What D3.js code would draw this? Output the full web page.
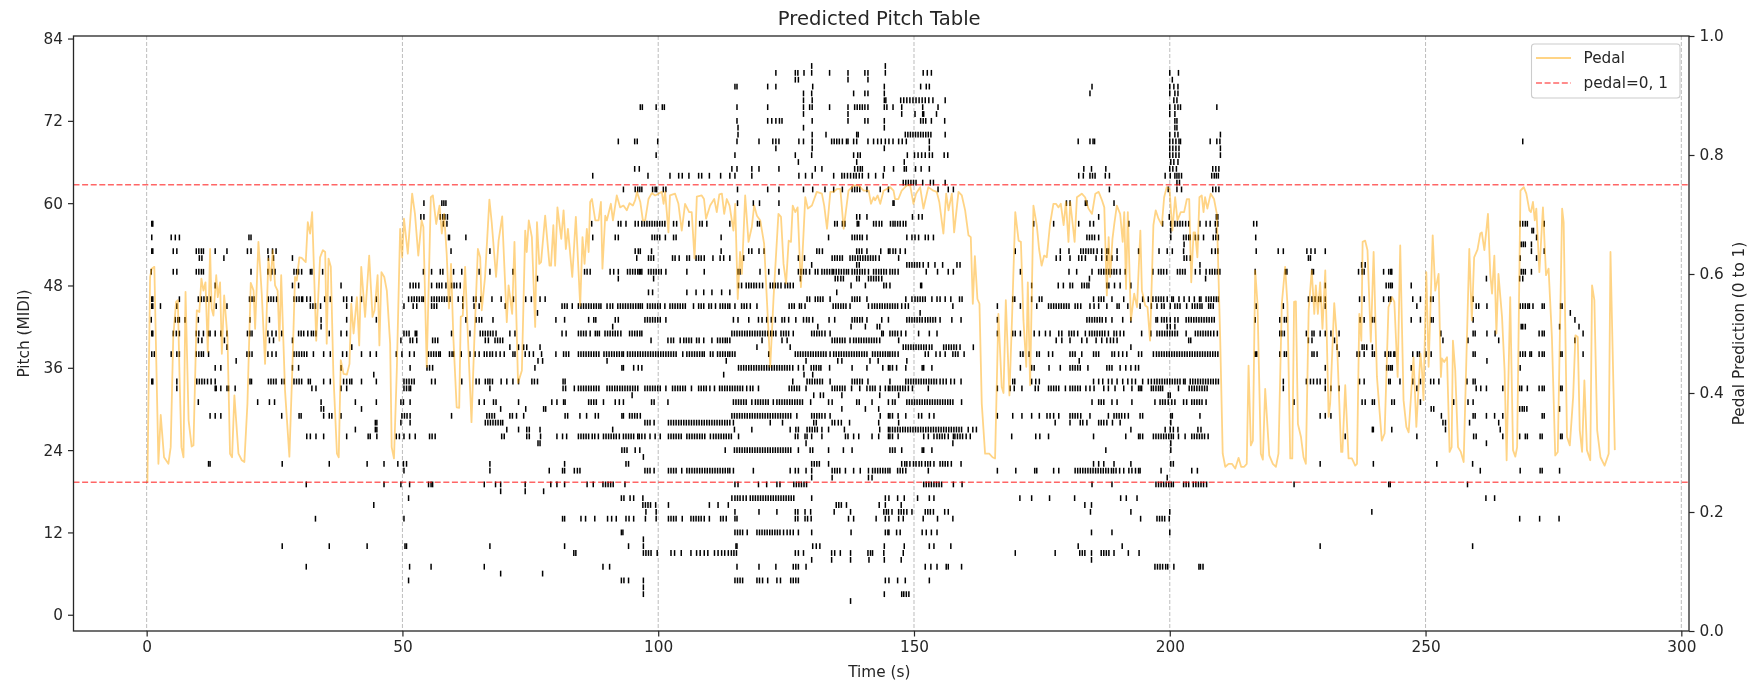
<!DOCTYPE html>
<html><head><meta charset="utf-8">
<script src="https://cdn.jsdelivr.net/npm/d3@7"></script>
<style>html,body{margin:0;padding:0;background:#fff}svg{display:block;filter:blur(0.4px)}text{font-family:"DejaVu Sans",sans-serif;fill:#262626}</style>
</head><body><div id="chart"></div>
<script>
const xTicks=[0,50,100,150,200,250,300];
const pitchTicks=[0,12,24,36,48,60,72,84];
const pedalTicks=[0,0.2,0.4,0.6,0.8,1];
const pedalThresholds=[0.25,0.75];
const pedalSeries=[[0.15,.25],[0.67,.595],[1,.609],[1.5,.612],[2.3,.281],[2.75,.363],[3.4,.292],[4.25,.281],[4.7,.309],[5.2,.494],[5.75,.553],[6.1,.556],[6.4,.438],[6.8,.309],[7.2,.292],[7.6,.57],[8.2,.354],[8.8,.31],[9.15,.312],[9.8,.539],[10.3,.536],[10.7,.592],[11.1,.572],[11.5,.586],[11.95,.469],[12.4,.642],[12.7,.542],[13.05,.53],[13.6,.598],[13.9,.561],[14.35,.586],[14.7,.466],[15.15,.564],[15.8,.494],[16.3,.298],[16.7,.292],[17.15,.396],[17.95,.298],[18.6,.287],[19.1,.284],[19.7,.382],[20.35,.585],[20.9,.572],[21.2,.508],[21.85,.654],[22.5,.567],[23.15,.449],[23.8,.626],[24.25,.589],[24.65,.64],[25.1,.581],[25.6,.572],[25.95,.488],[26.3,.598],[27.05,.404],[27.9,.293],[28.55,.46],[29,.595],[29.35,.589],[29.85,.628],[30.3,.627],[31.1,.62],[31.5,.687],[31.95,.668],[32.35,.704],[33.15,.488],[33.9,.628],[34.45,.64],[34.9,.637],[35.2,.483],[35.55,.626],[36,.612],[36.5,.432],[37.2,.298],[37.55,.292],[37.95,.455],[38.5,.432],[39.15,.431],[39.65,.449],[40,.55],[40.45,.5],[41.1,.561],[41.55,.48],[41.95,.612],[42.7,.528],[43.5,.631],[44.15,.528],[44.55,.539],[45.15,.598],[45.5,.48],[45.9,.603],[46.45,.595],[46.95,.572],[47.6,.483],
[47.9,.309],[48.35,.29],[48.9,.438],[49.55,.676],[49.95,.628],[50.3,.693],[51.05,.634],[51.9,.735],[52.45,.701],[53.1,.631],[53.75,.69],[54.1,.679],[54.75,.444],[55.55,.729],[55.95,.732],[56.6,.684],[57.25,.715],[57.7,.668],[58.15,.701],[58.65,.634],[59.1,.542],[59.5,.617],[59.95,.494],[60.6,.376],[61.1,.375],[61.4,.528],[61.8,.53],[62.25,.612],[62.8,.494],[63.5,.351],[64.05,.488],[64.75,.642],[65.2,.628],[65.5,.539],[66.15,.595],[67,.725],[67.45,.687],[68.3,.595],[68.8,.656],[69.5,.697],[70.4,.519],[70.75,.581],[71.45,.533],[71.9,.654],[72.6,.417],[73.35,.438],[74,.673],[74.3,.637],[74.7,.69],[75.3,.662],[75.95,.511],[76.3,.687],[76.75,.617],[77.1,.62],[77.9,.698],[78.75,.614],[79.05,.614],[79.5,.682],[79.85,.614],[80.3,.712],[81.05,.659],[81.5,.707],[81.95,.642],[82.35,.676],[83.2,.595],[83.9,.696],[84.75,.547],[85.2,.662],[85.6,.617],[86.05,.676],[86.4,.637],[86.7,.721],[87.05,.726],[87.7,.69],[88.35,.69],[88.8,.721],[89.1,.609],[89.65,.698],[89.95,.69],[90.75,.718],[91.15,.69],[91.9,.732],[92.55,.712],[93.2,.715],[93.85,.707],[94.4,.719],[95.05,.715],[95.5,.724],[95.85,.738],[96.5,.721],
[97,.69],[97.45,.69],[98.1,.726],[98.75,.736],[99.4,.732],[100.05,.735],[100.7,.738],[101.05,.718],[101.35,.738],[102,.67],[102.3,.732],[103.3,.735],[103.95,.718],[104.6,.673],[105.25,.718],[106.05,.704],[106.55,.704],[107.1,.626],[107.55,.73],[108.5,.732],[108.95,.726],[109.35,.693],[110.15,.715],[110.95,.726],[111.45,.704],[111.95,.734],[112.45,.735],[112.9,.701],[113.4,.726],[113.95,.715],[114.7,.673],[115.05,.718],[115.55,.558],[116,.637],[116.35,.6],[117,.732],[117.65,.654],[118.3,.679],[118.75,.715],[119.3,.698],[119.95,.69],[120.7,.651],[121.25,.556],[121.9,.444],[122.55,.561],[123.5,.701],[124,.696],[124.5,.617],[125,.584],[125.5,.656],[125.95,.654],[126.3,.715],[126.8,.704],[127.25,.712],[127.9,.578],[128.75,.729],[129.25,.71],[130.05,.715],[130.5,.726],[131,.738],[132,.735],[132.45,.715],[133,.676],[133.65,.738],[134.3,.738],[134.95,.743],[135.6,.743],[136.25,.676],[137.2,.74],[138.2,.749],[139.15,.749],[140.15,.74],[141.15,.74],[141.6,.718],[142.1,.729],[142.4,.724],[142.9,.732],[143.4,.718],[144.05,.74],[145.35,.746],
[146,.74],[146.3,.726],[146.95,.726],[147.6,.74],[148.6,.749],[149.25,.749],[149.9,.718],[150.4,.735],[151.2,.746],[151.85,.71],[152.8,.746],[153.8,.74],[154.45,.738],[154.95,.721],[155.75,.668],[156.3,.735],[156.75,.707],[157.4,.735],[157.85,.67],[158.7,.738],[159.35,.732],[160,.707],[160.65,.665],[161.1,.662],[161.5,.55],[161.9,.63],[162.4,.558],[162.8,.55],[163.25,.382],[163.9,.298],[164.7,.298],[165.35,.292],[165.85,.29],[166.5,.533],[167.15,.41],[167.5,.4],[167.95,.556],[168.65,.396],[169.15,.522],[169.8,.704],[170.45,.656],[170.9,.654],[171.4,.522],[171.95,.444],[172.25,.586],[172.7,.413],[173.35,.715],[174,.682],[174.45,.642],[174.95,.614],[175.45,.631],[175.95,.628],[176.6,.684],[177.25,.718],[177.75,.718],[178.25,.712],[178.7,.718],[179.25,.682],[179.7,.721],[180.2,.654],[180.55,.721],[181.4,.654],[181.85,.729],[182.8,.735],[183.45,.729],[184.1,.71],[184.8,.701],[185.45,.735],[186.1,.738],[186.75,.724],[187.2,.712],[187.7,.564],[188.05,.662],[188.35,.595],[188.8,.659],[189.15,.684],[189.65,.715],[190.3,.701],[190.8,.654],[191.1,.704],[191.45,.575],[191.8,.704],[192.4,.522],[193.05,.567],[193.6,.544],[194.25,.673],
[194.55,.572],[195.2,.547],[195.65,.544],[196.15,.488],[196.8,.682],[197.25,.707],[197.8,.693],[198.45,.682],[198.9,.729],[199.4,.746],[199.95,.743],[200.5,.673],[201.05,.729],[201.5,.69],[202.15,.704],[202.8,.704],[203.35,.726],[203.8,.726],[204.2,.586],[204.65,.67],[204.95,.67],[205.4,.628],[205.8,.729],[206.25,.732],[206.6,.704],[206.9,.729],[207.35,.71],[208,.735],[208.65,.726],[209.2,.701],[209.85,.494],[210.35,.298],[210.85,.276],[211.5,.281],[212.15,.281],[212.8,.273],[213.45,.291],[213.95,.276],[214.55,.276],[215.05,.281],[215.4,.446],[215.85,.312],[216.25,.32],[216.7,.606],[217.15,.55],[217.8,.298],[218.2,.288],[218.65,.407],[219.45,.295],[220.15,.281],[220.75,.276],[221.25,.298],[221.9,.55],[222.55,.612],[223,.55],[223.55,.29],[223.95,.29],[224.3,.553],[224.65,.554],[225.05,.348],[225.65,.326],[226.15,.292],[226.6,.281],[227.15,.539],[227.75,.606],[228.25,.533],[228.55,.581],[228.95,.533],[229.4,.586],[229.85,.508],[230.4,.606],[231.05,.36],[231.35,.382],[232.15,.551],[232.65,.494],[233.5,.301],[233.75,.301],[234.3,.413],[234.95,.29],[235.6,.29],[236.25,.278],[236.6,.281],[237.05,.533],[237.45,.488],[237.7,.654],[238.2,.656],[238.65,.64],[239.3,.486],[239.85,.637],[240.5,.427],[241.45,.32],[242,.332],[242.75,.544],
[243.45,.561],[243.9,.553],[244.55,.427],[245.05,.648],[245.7,.388],[246.25,.343],[246.7,.334],[247.65,.46],[248.2,.343],[249,.466],[249.3,.438],[249.6,.388],[250.15,.603],[250.6,.444],[251.4,.665],[251.9,.572],[252.55,.6],[253,.427],[253.2,.458],[253.65,.452],[254.2,.46],[254.7,.301],[255.1,.309],[255.35,.488],[255.8,.438],[256.35,.309],[256.9,.301],[257.45,.284],[258.55,.642],[259.05,.522],[259.5,.628],[260.15,.641],[260.7,.668],[261,.67],[261.5,.64],[262.2,.701],[262.65,.6],[263,.567],[263.45,.631],[263.85,.5],[264.25,.6],[264.95,.528],[265.45,.438],[265.85,.287],[266.55,.561],[267.1,.304],[267.55,.293],[267.9,.309],[268.55,.74],[269.2,.746],[269.7,.735],[270.3,.707],[270.6,.704],[271,.721],[271.35,.69],[271.65,.71],[272.25,.603],[272.95,.712],[273.55,.598],[274.05,.609],[274.7,.494],[275.35,.295],[275.85,.301],[276.7,.71],[277,.687],[277.65,.326],[278.2,.312],[278.85,.393],[279.3,.497],[279.75,.494],[280.15,.337],[280.6,.301],[281.05,.421],[281.55,.304],[282.2,.287],[282.55,.581],[283,.556],[283.55,.337],[284.2,.292],[285,.278],[285.8,.298],[286.15,.637],[287,.304]];

const p80=[130,144.4];
const p79=[123,126.8,127.3,128.5,130,133.5,137.1,140.4,141,144.4,151.8,152.6,153.4,200,201.7];
const p78=[126.8,127.4,137.1,141,200.5];
const p77=[115,115.4,121.4,123,130.2,144.2,151.3,152.4,153,184.8,200,200.8,201.6];
const p76=[128.4,130,138.2,140.4,141,144.2,184.4,200,201,201.6];
const p75=[128.4,130.1,144.2,144.5,147.4,148,148.6,149.2,149.8,150.4,151,151.6,152.2,152.9,153.7,156.1,200.8,201.4];
const p74=[96.5,96.9,99.6,100.8,101.2,115.4,121.4,128.4,129.6,130.1,133.5,137.1,138.4,138.9,139.4,139.9,140.4,141,144.2,144.7,145.9,147.6,151.7,154.7,200,201,201.6,202.1,209.2];
const p73=[128.4,137.1,147.6,150.2,151.7,151.9,154.4,200,201];
const p72=[115.4,121.4,122.2,123,123.7,124.2,130.1,137.1,140.4,141,144.2,151.3,151.8,152.3,153.4,156,201,201.4];
const p71=[115.6,128.4,144.2,201,201.4];
const p70=[115.6,130.1,132.8,138.8,139.1,148.3,148.8,149.3,149.8,150.3,150.8,151.3,151.8,152.3,152.8,153.3,156.1,200,201,201.6,209.9];
const p69=[92.2,95.4,95.9,99.9,115.4,119.7,122.4,123,123.6,127.5,128.4,130.1,133.9,134.4,134.9,135.4,136,136.8,137.1,138.2,138.8,141,142.1,142.9,143.6,144.4,145.1,145.9,147,147.7,148.5,153,182.1,184.4,185,185.3,200,200.6,201.2,201.8,202.1,207.9,209.2,209.8,269];
const p68=[123,130.1,144.2,153,200,200.6,201.2,201.8,209.9];
const p67=[99.6,115,126.8,130,138.2,139,139.5,148.7,150.1,150.8,151.5,152.2,153,153.6,155.9,156.6,200,200.6,201.2,201.8,209.9];
const p66=[127.4,138.8,148.1,200.2,200.8,201.6];
const p65=[95.4,96.3,114.4,115.4,118.3,119.7,123.6,130.7,132,138.4,139,139.5,139.9,144.2,146,148.1,148.5,150.3,151.4,153,183.2,184.7,187.5,200,200.6,201.3,208.4,209,209.6];
const p64=[87.2,98,102.3,104,104.7,106,107.9,108.5,110,112.2,114,115,118.3,127.5,128.8,130.1,134.3,135.9,136.4,137,137.6,138.2,138.7,139.3,139.9,141.1,142.5,144,182.2,183.1,184.4,184.9,185.4,187.4,188.2,199.1,200.1,201,201.4,201.8,202.3,208.2,208.7,209.1,209.5];
const p63=[147.9,148.4,148.9,149.4,149.9,150.4,151.7,153.2,153.8,156.1,201.4,201.9];
const p62=[93.2,95.5,96,96.4,96.8,98.9,99.4,99.7,101,101.5,115.5,121.4,123.6,128.4,130.2,132.6,134.3,136,137.9,138.4,138.9,139.4,140.8,143.4,145,154.7,156.7,157.7,188.2,199.7,201.4,202.3,208.4,209,209.6];
const p60=[54.2,57.7,58.1,58.5,115.5,118.6,119.8,123.6,145.9,146.1,179.8,180.5,183.5,183.8,189.1];
const p58=[53.6,54.2,57.4,57.9,58.3,58.8,138.8,139.4,140.8,149.7,150.9,151.6,186.1,199.9,209.1,209.4];
const p57=[1,1.2,58,58.7,87,92.2,92.7,93.7,95.5,96.1,96.8,97.3,97.8,98.3,98.8,99.3,99.8,100.3,100.8,101.3,103,103.6,106,108.1,108.6,109.5,114,119.4,119.8,134.5,135,136,136.5,138.9,139.2,142.1,142.6,143.2,143.7,145.4,145.9,146.3,146.8,147.3,147.9,148.4,173.4,177.3,182.2,184.4,185.1,192,198.6,200.2,201,201.5,202,202.5,203.1,203.7,205.9,207.1,207.9,208.9,209.4,216.4,217,268.5,269,269.5,269.9,273.2];
const p56=[200.2,209.1,270.8,271.1];
const p55=[1,4.8,5.6,6.4,20,20.4,59,59.2,62.4,87.2,91.6,92.2,98.8,99.3,99.8,100.3,101.4,103,103.5,112.3,133.3,137.9,138.4,138.9,139.4,139.9,140.8,148.6,149.6,150.2,150.9,152.2,152.8,153.8,183.8,184.3,184.8,185.3,186.1,200.2,202.7,203.2,203.7,204,205,205.6,206.6,208.5,209,209.5,216.8,271.7];
const p54=[202.8,268.7,269.1,269.5,270.7];
const p53=[1,1.2,5.2,5.9,9.7,10.2,10.7,11.1,13.4,15.7,19.7,20.4,23.7,24.6,25.3,59.5,67.1,95.5,96.1,96.5,98.7,112.3,117.7,118.3,119.7,120.7,131,131.5,132.1,138.8,139.3,139.8,140.8,143.5,145,145.3,145.9,146.4,147.3,148.3,169.8,178.6,180.3,182.6,183.1,183.6,184.1,184.6,185.1,185.8,186.7,187.7,188,189.7,193.9,197.9,199.5,200.5,202.7,208.2,208.9,209.4,216.9,221.2,222.2,226.8,227.6,228.4,230.4,270.7,273.2];
const p52=[10.3,10.8,15.1,23.8,24.8,28.5,95.8,98.1,98.6,99.1,102.8,103.3,104.1,105.6,106.1,107.4,107.9,108.4,109,110.7,112.1,112.8,114,116.7,127.4,128.6,134,134.5,135,135.5,136,137.5,138,138.5,139,139.5,140,140.5,141,141.5,142,142.5,143.2,147,177.8,178.6,180.5,182.2,182.8,183.5,185.6,186.7,187.7,188.7,189.7,202.8,203.3,204,227.1,227.5,268.5,271.7];
const p51=[130,138.8,139.3,148.6,149.1,149.6,150.1,150.6,151.1,151.8,152.8,154.1,155.6,158.4,159,205.9,237.5,238.2];
const p50=[.9,5.2,5.9,9.7,10.2,10.7,11.1,20.4,23.7,24.5,25.1,28.8,29.3,29.7,30.3,32,32.3,34.4,54.1,55.7,57.4,57.9,60,61.6,65,67.1,71.6,85.6,86.1,86.7,90.6,91.3,92.2,94,94.5,95,95.5,96,96.3,96.5,96.8,98.1,98.6,99.1,99.6,100.1,100.6,101.5,105.6,109,115.6,116,119.9,121.6,123.6,127.4,127.9,128.4,128.9,129.6,130.7,131.2,132,132.5,133,133.5,134,134.3,134.8,135.3,135.8,136.3,136.8,137.2,137.9,138.4,138.9,139.4,139.9,140.4,141.1,142.1,142.6,143.1,143.6,144.1,144.6,145.3,145.8,146.3,146.9,152.4,154.6,156.7,157.7,170.8,180.3,181.8,184.8,186.1,186.6,187.1,187.6,188.1,188.6,189.1,189.6,190.3,191.3,196.7,197.8,198.3,198.8,199.4,201.5,202,202.5,203,205,205.9,207.1,207.8,208.3,208.8,209.3,209.8,216.7,222.6,222.9,227.8,228.1,236.9,237.6,238,241.8,242.8,243.2,243.4,268.7,269.1,269.5,270.7];
const p49=[76.4,92.2,99.1,127.8,134.6,135.1,135.7,136.2,138.8,139.3,141.1,141.6,142.1,142.6,143.1,143.7,184.3,207,261.9,268.4,269];
const p48=[13.4,28.5,29.7,38,51.5,52.1,52.6,53.2,55.7,56.7,57.2,57.7,58.5,59.6,60.1,60.6,61.3,115.7,116.3,117.2,117.7,118.2,118.7,119.2,119.8,120.4,121.9,122.4,122.9,123.4,124,124.8,125.3,125.8,126.4,137.7,140.5,144.1,144.6,145.3,151.3,151.5,173,178.2,179.2,180.5,181,182.8,183.3,183.8,184.2,187.7,188.1,189.2,190.3,192.4,230.4,242.3,242.8,243.2,243.5,247.2];
const p47=[98.1,98.9,105.6,107.4,108.9,110.5,112.4,114,134.9];
const p46=[1,1.2,6.4,10.1,10.7,11.2,11.8,12.5,20.1,20.6,21,23.8,24.3,24.8,25.4,28.8,29.3,29.8,30.3,30.5,31.3,32,34.8,35.9,38.5,39.1,40.1,42,44.9,51.2,51.8,52.3,52.8,53.3,53.8,54.1,55.7,56.2,56.7,57.2,57.7,58.2,58.7,59.3,60.9,61.8,63.9,64.4,65.3,67.5,69.3,71.7,74.1,75.2,76.9,77.9,129.1,129.6,130.7,131.2,131.7,132.2,133.6,137.9,138.4,138.9,139.4,140.8,148.4,149.6,150.2,150.7,151.2,151.7,152.2,153.5,154.5,155.1,156.1,157.2,158.9,159.4,169.3,169.7,173,174.5,175,185.1,186.1,186.6,187.1,188.7,191,194.7,195.8,196.7,197.3,197.8,198.3,198.8,199.5,200.4,200.7,201.8,202.8,203.8,204.8,205.8,206.1,207.1,207.6,208.1,208.6,209.1,209.5,227.1,227.8,228.4,229.1,229.5,230.4,237.1,238,241.8,242.8,243.2,247.5,249,251,251.5,259.3];
const p45=[1,1.2,2.7,5.9,13.6,15.7,32,32.5,33,34,39.1,50.3,52.1,52.8,55.7,56.2,56.7,61.8,64,65,70.1,81.2,81.7,82.2,83.2,84.4,84.9,85.4,85.9,86.4,86.9,87.4,87.9,88.4,88.8,90,90.6,91.1,92.1,92.6,93.1,93.6,94.1,94.6,95.1,95.6,96.1,96.5,96.9,97.9,98.4,98.9,99.4,99.9,100.4,101.3,102.3,102.8,103.3,103.8,104.3,104.8,105.3,106.9,107.9,108.4,108.9,109.9,110.4,111.2,112.1,112.6,113.1,113.6,114,115,116.3,116.8,117.3,118,119.3,125.6,126.1,126.6,127.6,128,128.7,134.2,134.7,135.2,135.7,136.2,136.7,137.5,141.1,141.8,142.3,142.8,143.3,143.8,144.3,144.8,145.3,145.8,146.3,146.8,147.6,148.3,148.9,157.6,166.3,170.8,174,176.3,176.8,177.3,177.8,178.3,178.8,179.3,179.8,180.3,181.5,182,182.6,184.4,185.2,186.1,187.7,189.7,190.1,191.8,194.2,196.4,197.5,198.4,198.9,200.1,201,201.5,202,203.3,204.4,204.9,205.4,205.9,206.3,207.6,208,208.5,216.9,222.2,230.4,248.3,259.9,260.4,262,268.5,269,269.5,270,270.3,271,272.8,273.2,276.4,276.7];
const p44=[76.4,151.2,278.3];
const p43=[.9,5.6,6.1,6.4,7.5,10.1,20.2,24,34.1,39.1,44.9,62.4,64.4,65,65.5,67.7,80,81.7,86.4,87.4,87.8,91.6,92.2,97.4,97.9,98.4,98.9,99.4,99.9,100.4,101.5,114.7,115.6,117.7,119.6,120.3,121.2,122.1,122.9,124.2,124.7,125.5,126.9,128.4,129,129.5,130.2,133.4,134.5,137.9,138.4,138.9,139.4,139.9,140.8,143.7,145,148.6,149.1,149.6,150.1,150.6,151.1,151.6,152.2,152.7,153.2,153.7,154.2,155.1,157.4,159.2,166.3,183.8,184.3,184.8,185.3,185.8,186.3,186.8,187.5,188.7,190.8,192.4,197.3,197.6,198.4,198.9,199.4,200.1,201,201.6,203.2,203.7,204.2,204.7,205.2,205.7,206.2,206.7,207.2,207.7,208.2,208.7,216.7,221.5,222.4,222.8,237.2,238,239.6,240,247.2,249,251.1,251.5,259.3,279.2];
const p42=[34.1,91.1,131.2,137.7,140.5,142.8,143.3,199.5,200.1,201,268.7,269,269.5,276.2,280];
const p41=[1,1.2,5.2,5.8,6.4,9.7,10.2,11.1,12.1,12.4,13.4,14.5,15.7,19.7,20.2,20.6,23.7,24.5,25.3,26.4,29.7,30.2,30.7,31.5,32.2,32.6,33.1,35.7,38,39.1,50.3,50.8,51.3,52.5,52.8,59.6,63.2,65.2,65.7,66.2,66.7,67.2,67.7,68.3,71,72,81.2,82,84.4,84.9,85.4,85.9,86.7,87.7,88.1,88.5,89.6,90.1,90.6,91.1,91.6,92.1,92.7,94.4,94.9,95.4,95.9,96.4,96.8,114.4,114.9,115.4,115.9,116.4,116.9,117.4,117.9,118.4,118.9,119.4,119.9,120.4,120.9,121.4,122,122.5,123,124,124.5,125,125.5,126.4,130,130.5,131,131.5,132,132.6,133.6,143.7,144,145.3,145.8,146.3,146.8,147.5,148.4,150.9,153,154.5,166.3,169.3,169.8,170.8,173.5,174.5,175.7,176.6,178.3,178.9,180.3,180.8,181.3,182,183.5,184.3,184.8,185.3,185.8,186.3,186.8,187.3,188,189.1,189.6,190.3,191,194.5,196.3,197.5,198,198.5,199,199.5,200,200.5,201,201.5,203.2,205,205.5,206,206.5,207,207.5,208,208.6,209.3,221.5,221.9,222.4,226.7,227.8,228.2,229.4,230.4,231.5,233.1,253,259.3,259.7,262,263.6,272.2,272.8,273.2,280.8];
const p40=[10.1,10.8,15.2,24,24.8,28.5,49.7,51.5,52,52.8,55.9,56.4,56.9,66.2,66.8,68.1,68.6,69.1,69.6,98.6,101.9,102.5,103,104.3,105,105.5,106,106.5,107.5,108,108.9,110.5,111.6,112.1,112.6,113.1,113.5,114,120.3,124.2,125.2,134,134.5,135,135.5,136,136.5,137.5,138.2,138.7,139.2,139.7,140.2,140.7,141.2,141.7,142.2,142.7,143.3,147,177.8,178.9,180.5,182.8,183.8,185.6,186.7,187.7,188.4,189,189.7,203.7,204.1,227.1,227.8,232.2,253.4,258.3,264.3,279.2];
const p39=[15.7,40.1,71,72.7,73.7,74.3,76.9,119.3,125.8,147.9,148.4,148.9,149.4,149.9,150.4,150.9,151.4,151.9,152.4,153,153.5,155.8,156.3,156.8,157.3,157.8,158.3,159,161.6,192.4,232.7,237.6,238,238.5,239.6];
const p38=[1,1.5,4.8,5.9,6.4,9.7,10.2,10.7,11.1,12.1,19.6,20.1,20.6,23.7,24.5,25.3,28.8,29.3,29.8,30.3,30.8,31.3,32.6,34.6,35.9,38.3,39.1,42,43.7,44.9,48.8,49.9,51.4,52.3,55.1,55.6,56.1,56.6,57.1,57.4,59.2,59.7,60,61.5,63.2,64.2,65,66,66.5,67.1,67.6,68.3,69.1,69.9,71.6,72,74,74.8,75.6,77.2,80,81.5,82,82.5,84.4,84.9,85.4,85.9,86.4,86.9,87.4,87.9,88.4,89.4,89.9,90.4,90.9,91.4,91.9,92.4,92.9,93.2,94,94.5,95,95.5,96,96.5,97,97.5,98,98.5,99,99.5,100,100.5,101,101.5,102,102.5,103,103.5,104.8,105.6,106.1,106.6,107.1,107.6,108.1,108.6,109,110.2,110.7,111.6,112.1,112.6,113.1,113.6,114,114.5,115,121.6,126.8,127.3,127.8,128.3,128.8,129.3,129.8,130.3,130.8,131.3,131.8,132.3,132.8,133.6,134.3,134.8,135.3,135.8,136.3,136.8,137.3,137.8,138.3,138.8,139.3,139.8,140.3,140.8,141.9,142.4,142.9,143.4,143.9,144.4,144.9,145.3,145.8,146.3,146.9,152.2,152.8,154.3,155.1,156.1,157.6,158.1,158.6,159.8,170.8,171.3,172.5,174,174.5,176.3,177.1,180.5,181,181.5,182.8,185.1,185.6,186.1,188.7,189.2,190,190.8,191.6,193.9,194.5,196.8,197.4,197.9,198.4,198.9,199.4,199.9,200.4,200.9,201.4,201.9,202.4,202.9,203.4,203.9,204.4,204.9,205.4,205.9,206.4,206.9,207.4,207.9,208.4,208.9,209.4,216.7,217,221.5,222.4,222.8,227.8,228.2,228.8,233.1,236.6,237.1,238,239.6,240,242.1,242.8,243.2,243.8,244,247.5,248.4,248.8,250.1,251.1,259.3,259.7,268.5,269,269.5,270.4,270.7,272.2,272.8,273.2,276.4,276.7,280.8];
const p37=[17.5,76.5,77.4,90,113.3,128.9,135.1,135.9,141.4,143,148.6,182.3,262];
const p36=[13.4,14.5,28.5,29.7,38,51.5,54.8,55.3,55.9,75.9,92.9,93.2,95.2,96.1,96.8,115.7,116.2,116.7,117.2,117.7,118.2,118.7,119.2,119.7,120.2,120.7,121.2,121.7,122.2,122.7,123.2,123.7,124.2,124.7,125.2,125.7,126.3,127.4,128.4,129.9,130.4,130.9,131.4,131.8,133.5,137.9,140.8,143.9,145,145.3,145.8,146.6,148.4,151.6,151.9,153.5,170.8,173,173.5,176.4,178.6,180.5,181,181.5,182,182.5,184,187.7,188.2,188.7,190.3,191.4,192.4,193.3,193.9,230.4,242.4,242.8,243.2,243.5,247.2,268.5];
const p35=[44.4,112.8,128.5,130.2];
const p34=[1,1.2,5.9,9.8,10.3,10.8,11.3,11.9,12.6,13.4,20.2,20.5,23.8,24.3,24.8,25.3,26.4,26.9,28.8,29.3,29.8,30.3,31.6,32,34.6,35.9,38.5,39.1,39.7,40.1,42,44.9,50.3,50.8,51.3,51.8,52.3,55.7,56.4,61.6,64.4,65,66.2,66.7,67.1,67.6,69.3,70.4,71.6,72.7,75.3,75.8,76.4,81.4,81.8,126.3,129.1,129.6,130.1,130.6,131.1,131.6,132.1,133.6,137.9,138.4,138.9,139.4,139.9,141,145.3,148.4,148.9,149.4,149.9,150.4,150.9,151.4,151.9,152.4,152.9,153.4,153.9,154.4,155.1,155.7,156.3,157.2,157.9,159.2,169.3,169.7,173,173.8,174.5,185.1,186.1,186.9,188,188.7,189.7,190.8,191.8,192.6,193.3,194.7,195.8,196.4,197,197.5,198,198.5,199,199.5,200,200.5,201,201.5,202,202.7,203,204,204.5,205,205.5,206,206.5,207,207.5,208,208.5,209,209.5,222.2,226.7,227.5,228.1,228.8,229.4,230.4,237.1,238,242.8,243.1,245,247.5,249,251,251.6,252.6,258.1,259.3,259.7];
const p33=[5.9,13.4,13.6,14.5,15.7,16,17.3,32.3,33.1,38,39.1,50.3,50.8,51.3,51.6,67.1,81.4,81.9,83.6,84.4,84.9,85.4,85.9,86.4,86.9,87.4,87.9,88.4,90,90.5,91,91.5,92,92.5,93,93.5,94,94.5,95,95.5,96,97.4,97.9,98.4,98.9,99.4,99.9,100.4,101.5,102.8,103.3,103.8,104.3,104.8,105.3,106.5,107.9,108.4,108.9,109.4,110.1,111,112,112.5,113,113.5,114,114.5,115,115.5,116,116.5,117.3,118,118.5,119.6,125.6,126.1,126.6,127.1,127.6,128.9,134,134.5,135,135.5,136,136.5,137.8,139.4,140.8,141.4,141.9,142.4,143.4,144.4,145,145.3,145.8,146.3,146.8,147.3,147.8,148.3,148.9,149.7,152.8,166.3,168.8,169.6,171.1,173.7,174.3,176.3,176.8,177.3,177.8,178.3,179.6,180.5,181,181.5,182,182.5,183.6,184.4,185.2,187.1,188,189.3,191,192.6,193.9,194.2,194.5,196.4,196.8,197.3,197.8,198.2,198.6,201.7,203.8,204.3,204.8,205.3,205.8,206.3,206.8,207.3,222.2,230.4,231.5,233.1,248.3,259.9,260.8,261.9,265.1,268.4,268.8,269.9,272.2,272.8,273.2,276.4,276.7];
const p32=[94.9,130.4,131.7,132.3,135.9,143.3,147,199.7,200.1];
const p31=[10.1,21.7,24,25,34.1,40.8,44.9,49.7,50.2,51.5,65,66,67.8,68.3,72.7,79.2,80.2,81.5,81.8,86.4,86.9,87.4,87.9,89.3,91.6,92.4,93.2,98.7,99.2,101.9,114.7,115.2,115.7,116.2,116.7,117.2,118.3,119,119.5,120,120.5,121,121.5,122.5,123.2,123.7,124.2,124.7,125.2,125.7,126.2,126.7,127.2,127.7,128.2,129.8,133.3,134,138.8,139.3,141.8,145,145.8,146.3,148.6,149.1,149.6,150.1,150.6,151.1,151.6,152.1,152.6,153.1,153.6,154.1,154.6,155.1,155.6,156.1,156.6,157.1,157.6,159.3,184.8,186.1,186.6,187.1,188.7,189.7,192.6,197.1,198.1,198.6,199.1,199.7,200.4,201,202.7,203.3,204.3,204.8,205.3,205.8,206.3,207.1,224.3,237.6,238.2,239.6,240,243.4,243.9,249,255.5,258.3,259.3];
const p30=[34.1,34.6,42,69.2,74.1,77.6,78,135.9,140.5,143.1,251.1,251.6,268.4,268.9,269.3,269.8,276.2];
const p29=[12.4,13.4,14.5,26.4,29.8,30.2,34.6,35.7,36.2,38,49.9,50.4,50.9,51.5,59.6,66.5,67,67.5,68,71,71.5,72.3,73.7,81.8,82.3,84.7,86,87.7,88.3,92.9,93.2,94.4,94.9,95.4,95.9,96.5,114.4,114.9,115.4,115.9,116.4,116.9,117.4,117.9,118.4,118.9,119.4,119.9,120.4,120.9,121.4,121.9,122.4,122.9,123.4,123.9,124.4,124.9,125.4,125.9,127.1,130,130.5,131,131.5,132,132.6,133.6,143.4,145,145.3,145.8,146.9,148.4,150.9,151.5,153,153.9,166.3,169.3,171.1,173,174.5,176,176.6,177.3,178.3,180.5,181,181.5,182,182.6,184.4,188,189.1,189.6,190.1,190.6,191.2,191.9,194.2,194.7,200.2,200.5,205.9,229.4,230.4,231.5,253.1,259.3,259.7,261.9,263.5,265.1,272.8,273.2];
const p28=[44.7,45,49.7,51.5,66.2,66.7,67.2,67.7,68.2,68.7,69.2,69.6,97.4,97.9,98.4,99.2,102,102.5,103,103.5,104,104.5,105,105.5,106,106.5,107,107.5,108,108.5,109,109.5,110,110.5,111,111.5,112,112.5,113,113.5,114,114.7,121.9,124.3,130.4,130.9,134,134.5,135.2,135.8,137.4,143.1,147,177.6,180.5,182.5,183,183.8,186.1,186.6,187.1,187.7,188.8,190.3,200.2,253.4,253.9,258.6,264.3];
const p27=[40.8,44.7,45,70.4,72.7,74.3,74.8,76.9,91.1,114.9,118.3,125.8,126.9,127.4,129.1,129.6,130.1,130.6,131.1,132,133.3,136.4,143.3,145,145.3,145.8,146.3,146.8,147.3,147.8,148.3,148.8,149.3,149.8,150.3,150.8,151.3,151.8,152.3,152.8,153.3,153.8,154.3,154.8,155.3,155.8,156.3,156.8,157.3,157.8,158.3,158.8,159.3,160.6,161.5,162.2,192.4,199.1,200.1,200.7,201.6,205.5,206.1,239.6,239.8,243.4,253.9,264.6];
const p26=[31.3,32,33.1,34.6,39.1,43.3,43.7,45,48.8,49.4,50.3,51.4,52.5,55.3,55.8,56.4,69.4,69.9,74.3,74.8,77,80.2,81.3,82.1,84.4,84.9,85.4,85.9,86.4,87.1,87.6,88.3,89.3,89.8,90.3,90.8,91.3,91.8,92.4,93.2,93.7,94.2,94.7,95.2,96,96.3,96.8,97.4,98.4,99.4,100.4,102,102.5,103,103.5,104,104.5,105.6,106.1,106.6,107.1,107.6,108.1,108.6,109.1,110.2,110.8,111.3,111.8,112.3,112.8,113.3,113.8,114.3,115.7,126.8,127.3,128.7,129.1,130,132,136.6,137.1,138.2,139.2,141.8,143.1,145,145.3,145.8,146.9,151.9,152.8,153.9,154.5,155,155.5,156,156.7,157.7,158,158.5,159,159.5,160.2,161,169.1,173.8,174.6,176.3,185.1,191.4,193.9,194.2,194.7,196.8,197.3,197.8,198.3,198.8,199.3,199.8,200.3,200.7,201.7,203,204.3,204.8,205.3,205.8,206.3,206.8,207.5,234.3,248.3,259.4,259.9,265.1,268.4,269.5,269.9,272.4,272.8,276.4,276.7];
const p25=[76.5,76.9,128.9,157.6,200.2,261.9];
const p24=[92.9,93.4,93.9,95.5,96.4,113.1,114.9,115.4,115.9,116.4,116.9,117.4,117.9,118.4,118.9,119.4,119.9,120.4,120.9,121.4,121.9,122.4,122.9,123.4,123.9,124.4,124.9,125.4,125.9,127.4,129.7,130.2,133.3,136.2,137.9,145.3,145.8,146.3,147.6,151.6,151.9,153.5,187.5,200.2];
const p23=[97.1];
const p22=[12.1,12.4,26.5,35.7,43.1,46.4,49.1,50.2,50.8,67.1,81.7,93.7,94.2,130,130.5,131,131.5,133.3,147.6,148.2,148.6,149.2,149.9,150.4,151,151.5,152.2,152.7,153.2,153.9,155.1,155.6,156.1,156.6,157.3,159.2,185.1,186.1,187.1,189.1,192.4,200.2,200.7,229.4,239.8,252.2,259.2];
const p21=[50.3,67.1,78.7,81.3,81.7,83.6,84.2,84.7,97.4,97.9,98.4,99.2,102,102.5,103,103.5,104.6,105.6,106.1,106.6,107.1,107.6,108.1,108.6,109.1,109.6,110.1,110.6,111.1,111.6,112.1,112.6,113.1,113.6,114,114.7,118.6,125.8,126.8,127.4,128.9,130,134,134.5,135,135.5,136.6,138.2,139.5,141.1,141.9,142.4,142.9,143.4,143.9,144.4,144.9,145.3,146.8,147.3,147.8,148.4,152.8,166.3,169.9,173.6,174,177.3,178.3,181.5,182,182.5,183,183.5,184,184.5,185,185.5,186,186.5,187,187.5,188,188.6,189,189.5,190.2,191,192,192.6,193.3,193.9,194.2,198.3,204.3,205.4,260.7,268.5,272.4,272.8,276.2];
const p20=[130,134,141.1,141.8,199.5];
const p19=[31.2,46.4,49.7,51.4,55.1,55.6,55.9,66,68.2,69.2,74,79,80.2,81.7,86.1,87.3,89.2,89.7,90.2,90.7,91.2,93.5,115,115.6,119.6,121.2,123.2,123.8,126.5,127,127.5,128,128.5,129,151.9,152.4,152.9,153.4,153.9,154.4,154.9,155.4,157.7,159.4,184.8,188.7,197.3,197.8,198.3,198.8,199.3,199.8,200.3,200.7,202.7,203.2,203.7,204.6,205.1,205.6,206.1,206.6,207.2,224.3,242.8,243.1,258.2];
const p18=[69.2,74,77.6];
const p17=[51.2,92.8,93.3,94.5,95.2,97,114.4,115,115.5,116,116.6,117.2,118,118.5,119,119.5,120,120.5,121,121.5,122,122.5,123,123.5,124,124.5,125,125.5,126,126.5,130,144.4,145.1,146.8,148.1,150.7,153,153.9,170.7,173,176.5,181.4,190.4,191.5,193.6,261.8,263.5];
const p16=[44.4,97,97.5,98,98.5,99.5,102,110,111.7,113.7,134.8,135.3,135.8,136.8,143.2,144.4,147.5,183.4,184.7];
const p15=[97.6,99.6,115,119.7,123.2,126.8,127.3,128.7,129.8,134.4,137.6,144.1,144.6,145,145.7,147,147.5,148,148.6,149.6,152.2,152.7,153.2,153.8,156,156.7,184.5,192.4,200,239.5];
const p14=[33,50.3,81.3,81.7,84.9,85.8,87.6,90.1,90.9,91.8,93.7,94.3,95.2,97.5,99.6,102,102.5,103,103.5,104.7,106.4,106.9,107.4,107.9,108.4,109,110,112.2,112.7,113.3,115,115.4,126.8,127.3,128.7,129.2,129.9,137.2,138.2,142.6,144.4,145.1,147,147.9,151.8,154.6,157.6,194.3,197.5,198,198.5,199,199.9,268.4,272.3,276.1];
const p12=[92.8,93.1,115,115.5,116,116.5,117.4,119.3,119.8,120.3,120.8,121.3,121.8,122.3,122.8,123.3,123.8,124.5,125.2,125.8,126.4,127.4,130,137.7,144.4,144.9,145.1,146.6,147.3,151.6,152.4,153.4,154.5,184.7,188.7,200];
const p11=[97.1];
const p10=[26.5,35.7,43.1,50.5,50.8,67.1,81.7,94.2,97.1,115.2,115.4,130.2,130.9,131.6,144.2,148.1,153,153.9,157.2,182.1,190.7,229.4,259.2];
const p9=[83.5,83.9,97.1,97.6,98.1,98.6,99.8,102.5,103.2,104.5,106.4,107.5,108.2,109,109.7,111,111.7,112.4,113,113.7,114.3,114.8,115.3,126.8,127.4,128.4,133.9,134.5,135.6,137.6,141,141.5,141.9,144.1,147.9,169.8,177.6,182.4,182.9,183.4,184.7,186.6,187.1,187.6,188.1,189.1,191.9,194];
const p8=[130,133.9,137.6,141.2,144.2,147.5,184.7];
const p7=[31.2,51.4,55.6,66,89.2,90.5,115.4,119.7,123,126.4,126.9,127.4,128.9,152.2,153.3,154.5,156.3,156.7,159.3,197.1,197.6,198.1,198.6,199.2,199.6,200.8,205.7,206,206.5];
const p6=[69.2,77.4];
const p5=[51.2,92.8,93.3,94.2,97.1,115,115.5,116,116.5,119.3,119.8,120.4,121.4,123.2,123.9,125.9,126.4,126.9,127.4,144.4,145.1,146.8,148.3,153];
const p4=[97.1];
const p3=[97.1,144.2,147.6,148,148.5,149];
const p2=[137.6];

const noteRows=[[80,p80],[79,p79],[78,p78],[77,p77],[76,p76],[75,p75],[74,p74],[73,p73],[72,p72],[71,p71],[70,p70],[69,p69],[68,p68],[67,p67],[66,p66],[65,p65],[64,p64],[63,p63],[62,p62],[60,p60],[58,p58],[57,p57],[56,p56],[55,p55],[54,p54],[53,p53],[52,p52],[51,p51],[50,p50],[49,p49],[48,p48],[47,p47],[46,p46],[45,p45],[44,p44],[43,p43],[42,p42],[41,p41],[40,p40],[39,p39],[38,p38],[37,p37],[36,p36],[35,p35],[34,p34],[33,p33],[32,p32],[31,p31],[30,p30],[29,p29],[28,p28],[27,p27],[26,p26],[25,p25],[24,p24],[23,p23],[22,p22],[21,p21],[20,p20],[19,p19],[18,p18],[17,p17],[16,p16],[15,p15],[14,p14],[12,p12],[11,p11],[10,p10],[9,p9],[8,p8],[7,p7],[6,p6],[5,p5],[4,p4],[3,p3],[2,p2]];
const notes=noteRows.flatMap(([pitch,times])=>times.map(t=>({pitch,t})));

const W=1762,H=681,L=73.5,R=1689,T=36,B=631;
const x=d3.scaleLinear().domain([-14.3,301.5]).range([L,R]);
const y=d3.scaleLinear().domain([-2.37,84.37]).range([B,T]);
const yP=d3.scaleLinear().domain([0,1]).range([B,T]);
const svg=d3.select("#chart").append("svg").attr("width",W).attr("height",H);
const ink="#262626";

svg.append("g").selectAll("line").data(xTicks).join("line")
 .attr("x1",d=>x(d)).attr("x2",d=>x(d)).attr("y1",T).attr("y2",B)
 .attr("stroke","#9a9a9a").attr("stroke-opacity",.65).attr("stroke-width",1).attr("stroke-dasharray","4,2");

svg.append("g").selectAll("line").data(notes).join("line")
 .attr("x1",d=>x(d.t)).attr("x2",d=>x(d.t)).attr("y1",d=>y(d.pitch)-2.9).attr("y2",d=>y(d.pitch)+2.9)
 .attr("stroke","#000").attr("stroke-width",1.5);

svg.append("path").datum(pedalSeries)
 .attr("d",d3.line().x(d=>x(d[0])).y(d=>yP(d[1])))
 .attr("fill","none").attr("stroke","orange").attr("stroke-opacity",.48).attr("stroke-width",1.8).attr("stroke-linejoin","round");

svg.append("g").selectAll("line").data(pedalThresholds).join("line")
 .attr("x1",L).attr("x2",R).attr("y1",d=>yP(d)).attr("y2",d=>yP(d))
 .attr("stroke","red").attr("stroke-opacity",.6).attr("stroke-width",1.7).attr("stroke-dasharray","6,2.6");

svg.append("rect").attr("x",L).attr("y",T).attr("width",R-L).attr("height",B-T).attr("fill","none").attr("stroke",ink).attr("stroke-width",1.3);

const fs=15.3;
const gx=svg.append("g").attr("transform",`translate(0,${B})`).call(d3.axisBottom(x).tickValues(xTicks).tickSize(5.5).tickPadding(5).tickFormat(d3.format("d")));
const gl=svg.append("g").attr("transform",`translate(${L},0)`).call(d3.axisLeft(y).tickValues(pitchTicks).tickSize(5.5).tickPadding(5).tickFormat(d3.format("d")));
const gr=svg.append("g").attr("transform",`translate(${R},0)`).call(d3.axisRight(yP).tickValues(pedalTicks).tickSize(5.5).tickPadding(5).tickFormat(d3.format(".1f")));
[gx,gl,gr].forEach(g=>{g.select(".domain").remove();g.selectAll("line").attr("stroke",ink).attr("stroke-width",1.2);g.selectAll("text").attr("font-size",fs).attr("font-family",'"DejaVu Sans",sans-serif').attr("fill",ink);});

svg.append("text").attr("x",(L+R)/2-2).attr("y",25).attr("text-anchor","middle").attr("font-size",19.6).text("Predicted Pitch Table");
svg.append("text").attr("x",(L+R)/2-2).attr("y",677).attr("text-anchor","middle").attr("font-size",fs).text("Time (s)");
svg.append("text").attr("transform",`translate(29,${(T+B)/2}) rotate(-90)`).attr("text-anchor","middle").attr("font-size",fs).text("Pitch (MIDI)");
svg.append("text").attr("transform",`translate(1744,${(T+B)/2}) rotate(-90)`).attr("text-anchor","middle").attr("font-size",fs).text("Pedal Prediction (0 to 1)");

const leg=svg.append("g");
leg.append("rect").attr("x",1531.5).attr("y",44).attr("width",148.5).attr("height",54).attr("rx",3).attr("fill","#fff").attr("fill-opacity",.8).attr("stroke","#ccc").attr("stroke-width",1.1);
leg.append("line").attr("x1",1536).attr("x2",1571).attr("y1",58).attr("y2",58).attr("stroke","orange").attr("stroke-opacity",.48).attr("stroke-width",1.8);
leg.append("line").attr("x1",1536).attr("x2",1571).attr("y1",83).attr("y2",83).attr("stroke","red").attr("stroke-opacity",.6).attr("stroke-width",1.7).attr("stroke-dasharray","6,2.6");
leg.append("text").attr("x",1583.5).attr("y",63).attr("font-size",fs).text("Pedal");
leg.append("text").attr("x",1583.5).attr("y",88).attr("font-size",fs).text("pedal=0, 1");
</script></body></html>
